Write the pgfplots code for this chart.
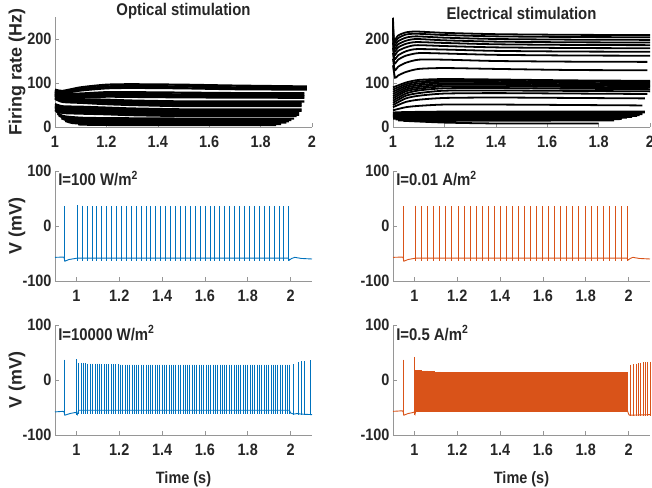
\documentclass[border=0pt]{standalone}
\usepackage{fontspec}
\setmainfont{Liberation Sans}[FakeStretch=0.88]
\newfontfamily\ylfont{Liberation Sans}
\usepackage{pgfplots}
\usepackage{pgfplotstable}
\pgfplotsset{compat=1.18}
\definecolor{mblue}{RGB}{0,114,189}
\definecolor{morange}{RGB}{217,83,25}
\definecolor{txt}{RGB}{38,38,38}
\definecolor{axg}{RGB}{150,150,150}
\newcommand\tks{\fontsize{16.5}{17}\selectfont\bfseries}
\newcommand\ttl{\fontsize{17}{18}\selectfont\bfseries}
\newcommand\ann{\fontsize{17}{18}\selectfont\bfseries}
\newcommand\xls{\fontsize{16.5}{18}\selectfont\bfseries}
\newcommand\yls{\ylfont\fontsize{18}{20}\selectfont\bfseries}

\pgfplotsset{
  base/.style={
    scale only axis, width=257bp, height=110bp, anchor=south west,
    axis x line=bottom, axis y line=left,
    axis line style={-, draw=axg, line width=0.6pt},
    tick style={draw=axg, line width=0.6pt},
    tick align=inside, major tick length=3.5bp,
    tick label style={font=\tks, text=txt},
    xticklabel style={yshift=-6bp},
    /pgf/number format/assume math mode=true,
    clip=false,
    ylabel style={font=\yls, text=txt, at={(axis description cs:-0.148,0.5)}, anchor=center},
    xlabel style={font=\xls, text=txt, at={(axis description cs:0.5,0)}, anchor=center, yshift=-44bp},
    title style={font=\ttl, text=txt, at={(axis description cs:0.5,1)}, anchor=base},
  },
  fr/.style={base, xmin=1, xmax=2, ymin=0, ymax=250, xtick={1,1.2,1.4,1.6,1.8,2}, ytick={0,100,200}},
  vv/.style={base, xmin=0.9, xmax=2.1, ymin=-100, ymax=100, xtick={1,1.2,1.4,1.6,1.8,2}, ytick={-100,0,100}},
  fl/.style={black, line width=2.2pt, smooth, tension=0.4},
  fe/.style={black, line width=1.8pt, smooth, tension=0.4},
  spk/.style 2 args={draw=none, mark=none, error bars/.cd, y dir=minus, y explicit, error mark=none, error bar style={draw=#1, line width=#2}},
}

% spike peak times and peak voltages
\pgfplotstableread[row sep=\\]{
t v\\
0.942 36\\ 1.003 38\\ 1.026 37\\ 1.049 36\\ 1.072 36\\ 1.095 36\\ 1.118 36\\ 1.141 36\\ 1.164 36\\ 1.187 36\\ 1.210 36\\
1.233 36\\ 1.255 36\\ 1.278 36\\ 1.301 36\\ 1.324 36\\ 1.347 36\\ 1.370 36\\ 1.393 36\\ 1.416 36\\ 1.439 36\\
1.462 36\\ 1.485 36\\ 1.508 36\\ 1.531 36\\ 1.554 36\\ 1.577 36\\ 1.600 36\\ 1.623 36\\ 1.646 36\\ 1.669 36\\
1.692 36\\ 1.715 36\\ 1.738 36\\ 1.761 36\\ 1.784 36\\ 1.807 36\\ 1.830 36\\ 1.853 36\\ 1.876 36\\ 1.899 36\\
1.922 36\\ 1.945 36\\ 1.968 36\\ 1.990 36\\
}\tabML

\pgfplotstableread[row sep=\\]{
t v\\
0.947 36\\ 1.005 37\\ 1.033 36\\ 1.061 36\\ 1.090 36\\ 1.118 36\\ 1.146 36\\ 1.174 36\\ 1.203 36\\ 1.231 36\\
1.259 36\\ 1.287 36\\ 1.316 36\\ 1.344 36\\ 1.372 36\\ 1.400 36\\ 1.429 36\\ 1.457 36\\ 1.485 36\\ 1.513 36\\
1.541 36\\ 1.570 36\\ 1.598 36\\ 1.626 36\\ 1.654 36\\ 1.683 36\\ 1.711 36\\ 1.739 36\\ 1.767 36\\ 1.796 36\\
1.824 36\\ 1.852 36\\ 1.880 36\\ 1.909 36\\ 1.937 36\\ 1.965 36\\ 1.993 36\\
}\tabMR

\pgfplotstableread[row sep=\\]{
t v\\
0.942 37\\ 1.000 38\\
}\tabBLa

\pgfplotstableread[row sep=\\]{
t v\\
1.010 31\\ 1.021 31\\ 1.032 31\\ 1.042 31\\ 1.053 30\\ 1.064 30\\ 1.075 30\\ 1.086 30\\ 1.097 30\\ 1.107 30\\
1.118 29\\ 1.129 29\\ 1.140 29\\ 1.151 29\\ 1.161 29\\ 1.172 29\\ 1.183 29\\ 1.194 29\\ 1.205 28\\ 1.216 28\\
1.226 28\\ 1.237 28\\ 1.248 28\\ 1.259 28\\ 1.270 28\\ 1.281 28\\ 1.291 28\\ 1.302 28\\ 1.313 28\\ 1.324 28\\
1.335 28\\ 1.345 28\\ 1.356 28\\ 1.367 28\\ 1.378 28\\ 1.389 28\\ 1.400 28\\ 1.410 28\\ 1.421 28\\ 1.432 28\\
1.443 28\\ 1.454 28\\ 1.464 28\\ 1.475 28\\ 1.486 28\\ 1.497 28\\ 1.508 28\\ 1.519 28\\ 1.529 28\\ 1.540 28\\
1.551 28\\ 1.562 28\\ 1.573 28\\ 1.583 28\\ 1.594 28\\ 1.605 28\\ 1.616 28\\ 1.627 28\\ 1.638 28\\ 1.648 28\\
1.659 28\\ 1.670 28\\ 1.681 28\\ 1.692 28\\ 1.702 28\\ 1.713 28\\ 1.724 28\\ 1.735 28\\ 1.746 28\\ 1.757 28\\
1.767 28\\ 1.778 28\\ 1.789 28\\ 1.800 28\\ 1.811 28\\ 1.822 28\\ 1.832 28\\ 1.843 28\\ 1.854 28\\ 1.865 28\\
1.876 28\\ 1.886 28\\ 1.897 28\\ 1.908 28\\ 1.919 28\\ 1.930 28\\ 1.940 28\\ 1.951 28\\ 1.962 28\\ 1.973 28\\
1.984 28\\ 1.995 28\\
}\tabBLb

\pgfplotstableread[row sep=\\]{
t v\\
2.015 29\\ 2.034 32\\ 2.050 34\\ 2.065 35\\ 2.092 36\\
}\tabBLc

\pgfplotstableread[row sep=\\]{
t v\\
0.947 37\\ 1.000 42\\
}\tabBRa

\pgfplotstableread[row sep=\\]{
t v\\
1.006 18\\ 1.011 18\\ 1.016 18\\ 1.021 18\\ 1.026 18\\ 1.031 18\\ 1.036 17\\ 1.041 17\\ 1.046 17\\ 1.051 17\\
1.056 17\\ 1.061 17\\ 1.066 16\\ 1.071 16\\ 1.076 16\\ 1.081 16\\ 1.086 16\\ 1.091 16\\ 1.096 15\\
1.101 15\\ 1.106 15\\ 1.111 15\\ 1.116 15\\ 1.121 15\\ 1.126 14\\ 1.131 14\\ 1.136 14\\ 1.141 14\\ 1.146 14\\
1.151 14\\ 1.156 14\\ 1.161 14\\ 1.166 14\\ 1.171 14\\ 1.176 14\\ 1.181 14\\ 1.186 14\\ 1.191 14\\ 1.196 14\\
1.201 14\\ 1.206 14\\ 1.211 14\\ 1.216 14\\ 1.221 14\\ 1.226 14\\ 1.231 14\\ 1.236 14\\ 1.241 14\\ 1.246 14\\
1.251 14\\ 1.256 14\\ 1.261 14\\ 1.266 14\\ 1.271 14\\ 1.276 14\\ 1.281 14\\ 1.286 14\\ 1.291 14\\ 1.296 14\\
1.301 14\\ 1.306 14\\ 1.311 14\\ 1.316 14\\ 1.321 14\\ 1.326 14\\ 1.331 14\\ 1.336 14\\ 1.341 14\\ 1.346 14\\
1.351 14\\ 1.356 14\\ 1.361 14\\ 1.366 14\\ 1.371 14\\ 1.376 14\\ 1.381 14\\ 1.386 14\\ 1.391 14\\ 1.396 14\\
1.401 14\\ 1.406 14\\ 1.411 14\\ 1.416 14\\ 1.421 14\\ 1.426 14\\ 1.431 14\\ 1.436 14\\ 1.441 14\\ 1.446 14\\
1.451 14\\ 1.456 14\\ 1.461 14\\ 1.466 14\\ 1.471 14\\ 1.476 14\\ 1.481 14\\ 1.486 14\\ 1.491 14\\ 1.496 14\\
1.501 14\\ 1.506 14\\ 1.511 14\\ 1.516 14\\ 1.521 14\\ 1.526 14\\ 1.531 14\\ 1.536 14\\ 1.541 14\\ 1.546 14\\
1.551 14\\ 1.556 14\\ 1.561 14\\ 1.566 14\\ 1.571 14\\ 1.576 14\\ 1.581 14\\ 1.586 14\\ 1.591 14\\ 1.596 14\\
1.601 14\\ 1.606 14\\ 1.611 14\\ 1.616 14\\ 1.621 14\\ 1.626 14\\ 1.631 14\\ 1.636 14\\ 1.641 14\\ 1.646 14\\
1.651 14\\ 1.656 14\\ 1.661 14\\ 1.666 14\\ 1.671 14\\ 1.676 14\\ 1.681 14\\ 1.686 14\\ 1.691 14\\ 1.696 14\\
1.701 14\\ 1.706 14\\ 1.711 14\\ 1.716 14\\ 1.721 14\\ 1.726 14\\ 1.731 14\\ 1.736 14\\ 1.741 14\\ 1.746 14\\
1.751 14\\ 1.756 14\\ 1.761 14\\ 1.766 14\\ 1.771 14\\ 1.776 14\\ 1.781 14\\ 1.786 14\\ 1.791 14\\ 1.796 14\\
1.801 14\\ 1.806 14\\ 1.811 14\\ 1.816 14\\ 1.821 14\\ 1.826 14\\ 1.831 14\\ 1.836 14\\ 1.841 14\\ 1.846 14\\
1.851 14\\ 1.856 14\\ 1.861 14\\ 1.866 14\\ 1.871 14\\ 1.876 14\\ 1.881 14\\ 1.886 14\\ 1.891 14\\ 1.896 14\\
1.901 14\\ 1.906 14\\ 1.911 14\\ 1.916 14\\ 1.921 14\\ 1.926 14\\ 1.931 14\\ 1.936 14\\ 1.941 14\\ 1.946 14\\
1.951 14\\ 1.956 14\\ 1.961 14\\ 1.966 14\\ 1.971 14\\ 1.976 14\\ 1.981 14\\ 1.986 14\\ 1.991 14\\ 1.996 14\\
}\tabBRb

\pgfplotstableread[row sep=\\]{
t v\\
2.008 28\\ 2.023 29\\ 2.034 30\\ 2.046 31\\ 2.057 31.5\\ 2.068 32\\ 2.079 32.5\\ 2.089 33\\ 2.100 33.5\\
}\tabBRc

\begin{document}
\begin{tikzpicture}
\useasboundingbox (0,0) rectangle (652bp,488bp);

% ---------------- top left: optical firing rates
\begin{axis}[fr, at={(55bp,361bp)}, title={Optical stimulation}, title style={yshift=-4bp}, ylabel={Firing rate (Hz)}]
\addplot[fl] coordinates {(1.00,85) (1.03,82) (1.10,90) (1.20,96) (1.30,97) (1.50,96) (1.70,94) (1.98,92)};
\addplot[fl] coordinates {(1.00,83) (1.03,79) (1.10,86) (1.20,92) (1.30,93) (1.50,92) (1.70,90) (1.98,88.5)};
\addplot[fl] coordinates {(1.00,81) (1.03,77) (1.10,83) (1.20,88) (1.30,89) (1.50,88) (1.70,86) (1.98,85)};
\addplot[fl] coordinates {(1.00,80) (1.03,75) (1.10,76) (1.20,79) (1.30,79) (1.50,78) (1.70,77) (1.97,77)};
\addplot[fl] coordinates {(1.00,78) (1.03,72) (1.10,73) (1.20,75) (1.30,75) (1.50,74) (1.70,73.5) (1.97,73.5)};
\addplot[fl] coordinates {(1.00,76) (1.03,69) (1.10,70) (1.20,72) (1.30,72) (1.50,71) (1.70,70) (1.97,70)};
\addplot[fl] coordinates {(1.00,74) (1.03,66) (1.10,67) (1.20,69) (1.30,68.5) (1.50,67.5) (1.70,67) (1.97,66.5)};
\addplot[fl] coordinates {(1.00,72) (1.03,64) (1.10,63) (1.20,62) (1.30,60) (1.50,58) (1.70,58) (1.97,58)};
\addplot[fl] coordinates {(1.00,70) (1.03,62) (1.10,60) (1.20,58.5) (1.30,56.5) (1.50,54.5) (1.70,54.5) (1.96,54.5)};
\addplot[fl] coordinates {(1.00,67) (1.03,59) (1.10,57) (1.20,55) (1.30,53) (1.50,51) (1.70,51) (1.96,51)};
\addplot[fl] coordinates {(1.00,64) (1.03,57) (1.10,55) (1.20,52) (1.30,50) (1.50,47.5) (1.70,47.5) (1.96,47.5)};
\addplot[fl] coordinates {(1.00,52) (1.03,47) (1.10,46) (1.20,44) (1.30,42) (1.50,40) (1.70,40) (1.96,40)};
\addplot[fl] coordinates {(1.00,49) (1.03,44) (1.10,43) (1.20,41) (1.30,39) (1.50,37) (1.70,37) (1.96,37)};
\addplot[fl] coordinates {(1.00,46) (1.03,41) (1.10,39.5) (1.20,38) (1.30,36) (1.50,34) (1.70,34) (1.95,34)};
\addplot[fl] coordinates {(1.00,43) (1.03,38) (1.10,36.5) (1.20,35) (1.30,33) (1.50,31) (1.70,31) (1.95,31)};
\addplot[fl] coordinates {(1.00,40) (1.03,35) (1.10,33.5) (1.20,32) (1.30,30) (1.50,28) (1.70,28) (1.95,28)};
\addplot[fl] coordinates {(1.00,38) (1.03,32) (1.10,30.5) (1.20,29) (1.30,27) (1.50,25) (1.70,25) (1.94,25)};
\addplot[fl] coordinates {(1.005,36) (1.03,25) (1.10,21) (1.20,20) (1.50,19) (1.70,19) (1.93,19)};
\addplot[fl] coordinates {(1.01,30) (1.04,21) (1.10,18) (1.20,17) (1.50,16) (1.70,16) (1.92,16)};
\addplot[fl] coordinates {(1.015,26) (1.05,17) (1.10,15) (1.20,14) (1.50,13) (1.70,13) (1.91,13)};
\addplot[fl] coordinates {(1.025,20) (1.06,13) (1.12,12) (1.20,11) (1.50,10) (1.70,10) (1.90,10)};
\addplot[fl] coordinates {(1.04,14) (1.07,9) (1.15,8) (1.30,7.5) (1.50,7) (1.88,7)};
\addplot[fl] coordinates {(1.09,6) (1.15,5) (1.30,4.5) (1.50,4.5) (1.86,4.5)};
\end{axis}

% ---------------- top right: electrical firing rates
\begin{axis}[fr, at={(393bp,361bp)}, title={Electrical stimulation}, title style={yshift=-8bp}]
\addplot[fe] coordinates {(1.000,248) (1.004,198) (1.02,208) (1.05,215) (1.09,217) (1.2,214) (1.4,211) (1.7,209.5) (2.0,209)};
\addplot[fe] coordinates {(1.000,236) (1.004,192) (1.02,202) (1.05,210) (1.09,212) (1.2,209) (1.4,206) (1.7,204.5) (2.0,204)};
\addplot[fe] coordinates {(1.000,225) (1.004,185) (1.02,195) (1.05,203) (1.09,206) (1.2,203) (1.4,200) (1.7,198.5) (2.0,198)};
\addplot[fe] coordinates {(1.000,214) (1.005,178) (1.02,188) (1.05,196) (1.09,200) (1.2,197) (1.4,194) (1.7,192.5) (2.0,192)};
\addplot[fe] coordinates {(1.000,203) (1.005,171) (1.02,181) (1.05,189) (1.09,193) (1.2,191) (1.4,188) (1.7,186.5) (2.0,186)};
\addplot[fe] coordinates {(1.000,192) (1.005,163) (1.02,173) (1.05,181) (1.09,186) (1.2,184) (1.4,181) (1.7,179.5) (2.0,179)};
\addplot[fe] coordinates {(1.000,180) (1.006,154) (1.02,163) (1.05,172) (1.09,177) (1.2,176) (1.4,173) (1.7,171.5) (2.0,171)};
\addplot[fe] coordinates {(1.000,168) (1.006,144) (1.02,153) (1.05,162) (1.10,168) (1.2,167) (1.4,164) (1.7,162.5) (2.0,162)};
\addplot[fe] coordinates {(1.000,155) (1.007,129) (1.02,137) (1.05,146) (1.10,153) (1.2,153) (1.4,150) (1.7,148.5) (1.99,148)};
\addplot[fe] coordinates {(1.000,140) (1.008,112) (1.02,117) (1.05,125) (1.10,132) (1.2,134) (1.4,132) (1.7,129.5) (1.99,129)};
\addplot[fe] coordinates {(1.0,90) (1.05,101) (1.1,107) (1.2,109) (1.4,108) (1.7,106) (2.0,105)};
\addplot[fe] coordinates {(1.0,85) (1.05,97) (1.1,103) (1.2,106) (1.4,105) (1.7,103) (2.0,102)};
\addplot[fe] coordinates {(1.0,80) (1.05,93) (1.1,99) (1.2,103) (1.4,102) (1.7,100) (2.0,99)};
\addplot[fe] coordinates {(1.0,75) (1.05,89) (1.1,95) (1.2,99.5) (1.4,99) (1.7,97) (2.0,96)};
\addplot[fe] coordinates {(1.0,70) (1.05,85) (1.1,91) (1.2,96) (1.4,96) (1.7,94) (2.0,93)};
\addplot[fe] coordinates {(1.0,65) (1.05,81) (1.1,87) (1.2,92.5) (1.4,92.5) (1.7,91) (2.0,90)};
\addplot[fe] coordinates {(1.0,60) (1.05,76) (1.1,83) (1.2,88) (1.4,88.5) (1.7,87) (2.0,86)};
\addplot[fe] coordinates {(1.0,55) (1.05,71) (1.1,77) (1.2,82.5) (1.4,83) (1.7,82) (2.0,81)};
\addplot[fe] coordinates {(1.0,50) (1.05,65) (1.1,71) (1.2,76) (1.4,77) (1.7,76) (1.99,75)};
\addplot[fe] coordinates {(1.0,45) (1.05,57) (1.1,62) (1.2,66) (1.4,67) (1.7,66) (1.98,65)};
\addplot[fe] coordinates {(1.0,38) (1.05,45) (1.1,48) (1.2,51) (1.4,51) (1.7,50) (1.97,49)};
\addplot[fe] coordinates {(1.0,33) (1.05,34) (1.2,35) (1.5,35) (1.8,35) (1.98,35)};
\addplot[fe] coordinates {(1.0,31) (1.05,32) (1.2,33) (1.5,33) (1.8,33) (1.98,33)};
\addplot[fe] coordinates {(1.0,29) (1.05,30) (1.2,31) (1.5,31) (1.8,31) (1.97,31)};
\addplot[fe] coordinates {(1.0,27) (1.05,28) (1.2,29) (1.5,29) (1.8,29) (1.97,29)};
\addplot[fe] coordinates {(1.0,25) (1.05,26) (1.2,27) (1.5,27) (1.8,27) (1.96,27)};
\addplot[fe] coordinates {(1.0,23) (1.05,24) (1.2,24.5) (1.5,25) (1.8,25) (1.95,25)};
\addplot[fe] coordinates {(1.0,21) (1.05,21.5) (1.2,22) (1.5,22) (1.8,22.5) (1.93,23)};
\addplot[fe] coordinates {(1.0,19) (1.05,19) (1.2,19.5) (1.5,19.5) (1.8,20) (1.91,21)};
\addplot[fe] coordinates {(1.01,17) (1.05,16.5) (1.2,17) (1.5,17) (1.8,17.5) (1.89,18)};
\addplot[fe] coordinates {(1.02,15) (1.1,14) (1.3,14) (1.6,14.5) (1.86,15)};
\addplot[fe] coordinates {(1.04,14) (1.2,10) (1.4,8) (1.6,8) (1.8,8)};
\end{axis}

% ---------------- middle left
\begin{axis}[vv, at={(55bp,207bp)}, ylabel={V (mV)}]
\addplot[mblue, line width=0.9pt] coordinates {(0.9,-57) (0.938,-56.5) (0.942,-57) (0.946,-64) (0.965,-61) (0.995,-59) (1.003,-58.5) (1.99,-58.5) (1.994,-62) (2.005,-59) (2.02,-57) (2.05,-59) (2.1,-60)};
\addplot[spk={mblue}{0.6pt}] table[x=t, y=v, y error expr=\thisrow{v}+64] {\tabML};
\node[anchor=base west, inner sep=0pt, font=\ann, text=txt, yshift=-15bp] at (rel axis cs:0.012,1) {I=100 W/m\textsuperscript{2}};
\end{axis}

% ---------------- middle right
\begin{axis}[vv, at={(393bp,207bp)}]
\addplot[morange, line width=0.9pt] coordinates {(0.9,-57) (0.943,-56.5) (0.947,-57) (0.951,-64) (0.97,-61) (0.998,-59) (1.005,-58.5) (1.993,-58.5) (1.997,-62) (2.008,-59) (2.02,-57) (2.05,-59) (2.1,-60)};
\addplot[spk={morange}{0.6pt}] table[x=t, y=v, y error expr=\thisrow{v}+64] {\tabMR};
\node[anchor=base west, inner sep=0pt, font=\ann, text=txt, yshift=-15bp] at (rel axis cs:0.012,1) {I=0.01 A/m\textsuperscript{2}};
\end{axis}

% ---------------- bottom left
\begin{axis}[vv, at={(55bp,53bp)}, ylabel={V (mV)}, xlabel={Time (s)}]
\addplot[mblue, line width=0.9pt] coordinates {(0.9,-58) (0.938,-57) (0.942,-58) (0.946,-64) (0.97,-61) (0.995,-59) (1.0,-60) (1.004,-63) (1.01,-55) (1.995,-55) (2.0,-60) (2.015,-62) (2.03,-61) (2.05,-62) (2.1,-63)};
\addplot[spk={mblue}{0.6pt}] table[x=t, y=v, y error expr=\thisrow{v}+64] {\tabBLa};
\addplot[spk={mblue}{0.6pt}] table[x=t, y=v, y error expr=\thisrow{v}+62] {\tabBLb};
\addplot[spk={mblue}{0.6pt}] table[x=t, y=v, y error expr=\thisrow{v}+64] {\tabBLc};
\node[anchor=base west, inner sep=0pt, font=\ann, text=txt, yshift=-15bp] at (rel axis cs:0.012,1) {I=10000 W/m\textsuperscript{2}};
\end{axis}

% ---------------- bottom right
\begin{axis}[vv, at={(393bp,53bp)}, xlabel={Time (s)}]
\addplot[morange, line width=0.9pt] coordinates {(0.9,-57) (0.943,-56) (0.947,-57) (0.951,-64) (0.97,-61) (0.995,-59) (1.0,-58) (1.003,-62) (1.006,-57) (1.996,-57) (2.0,-62) (2.004,-64) (2.1,-63)};
\addplot[spk={morange}{0.6pt}] table[x=t, y=v, y error expr=\thisrow{v}+64] {\tabBRa};
\addplot[spk={morange}{1.4pt}] table[x=t, y=v, y error expr=\thisrow{v}+59] {\tabBRb};
\addplot[spk={morange}{0.6pt}] table[x=t, y=v, y error expr=\thisrow{v}+65] {\tabBRc};
\node[anchor=base west, inner sep=0pt, font=\ann, text=txt, yshift=-15bp] at (rel axis cs:0.012,1) {I=0.5 A/m\textsuperscript{2}};
\end{axis}
\end{tikzpicture}
\end{document}
